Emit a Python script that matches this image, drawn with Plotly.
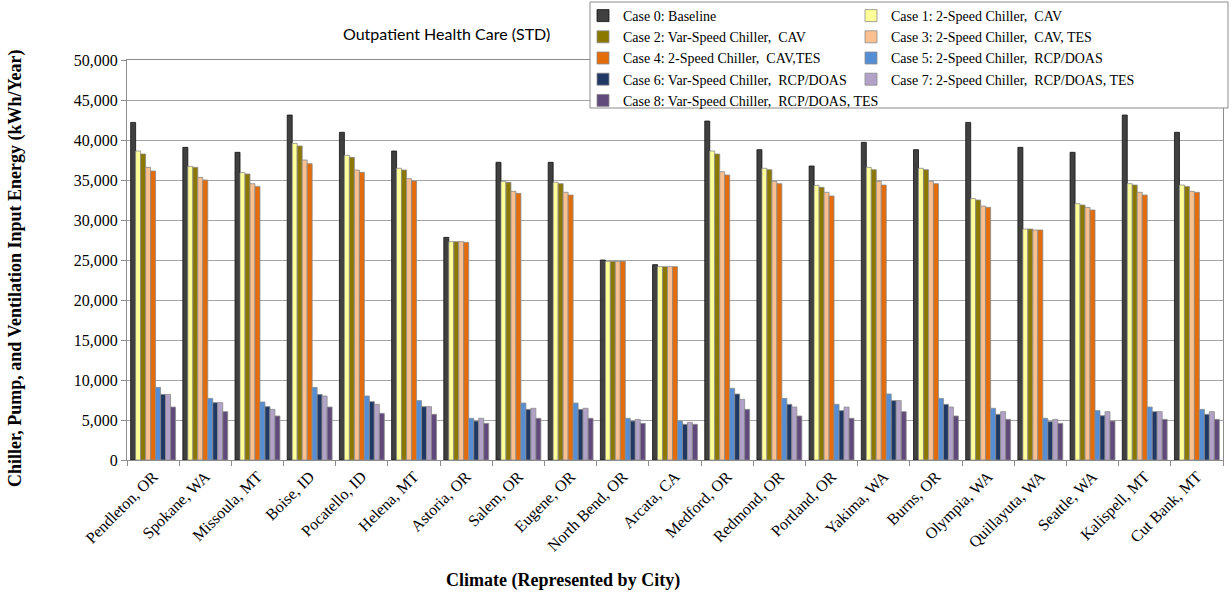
import plotly.graph_objects as go

cities = ["Pendleton, OR", "Spokane, WA", "Missoula, MT", "Boise, ID", "Pocatello, ID",
          "Helena, MT", "Astoria, OR", "Salem, OR", "Eugene, OR", "North Bend, OR",
          "Arcata, CA", "Medford, OR", "Redmond, OR", "Portland, OR", "Yakima, WA",
          "Burns, OR", "Olympia, WA", "Quillayuta, WA", "Seattle, WA", "Kalispell, MT",
          "Cut Bank, MT"]

case_names = ["Case 0: Baseline",
              "Case 1: 2-Speed Chiller,  CAV",
              "Case 2: Var-Speed Chiller,  CAV",
              "Case 3: 2-Speed Chiller,  CAV, TES",
              "Case 4: 2-Speed Chiller,  CAV,TES",
              "Case 5: 2-Speed Chiller,  RCP/DOAS",
              "Case 6: Var-Speed Chiller,  RCP/DOAS",
              "Case 7: 2-Speed Chiller,  RCP/DOAS, TES",
              "Case 8: Var-Speed Chiller,  RCP/DOAS, TES"]

case0 = [42200, 39080, 38460, 43120, 40960, 38620, 27830, 37210, 37210, 25000, 24420,
         42370, 38790, 36750, 39710, 38790, 42200, 39080, 38460, 43120, 40960]
case1 = [38620, 36700, 35920, 39580, 38080, 36460, 27290, 34830, 34710, 24830, 24170,
         38620, 36460, 34330, 36580, 36460, 32670, 28870, 32040, 34540, 34370]
case2 = [38250, 36580, 35750, 39250, 37830, 36250, 27290, 34710, 34540, 24830, 24170,
         38250, 36290, 34080, 36290, 36290, 32500, 28870, 31870, 34370, 34200]
case3 = [36580, 35330, 34540, 37500, 36250, 35170, 27290, 33580, 33460, 24830, 24170,
         36040, 34830, 33460, 34830, 34830, 31750, 28750, 31580, 33460, 33580]
case4 = [36120, 35000, 34200, 37040, 35960, 34870, 27210, 33330, 33120, 24830, 24170,
         35620, 34540, 33000, 34370, 34540, 31580, 28750, 31250, 33120, 33460]
case5 = [9080, 7700, 7250, 9080, 8000, 7420, 5210, 7120, 7120, 5210, 4870,
         8960, 7700, 6960, 8250, 7700, 6460, 5210, 6170, 6620, 6330]
case6 = [8200, 7170, 6670, 8200, 7290, 6670, 4870, 6330, 6330, 4870, 4460,
         8250, 6960, 6170, 7420, 6960, 5710, 4790, 5540, 6040, 5710]
case7 = [8200, 7170, 6330, 8000, 6960, 6670, 5210, 6460, 6460, 5080, 4710,
         7580, 6620, 6620, 7420, 6620, 6040, 5080, 6040, 6040, 6040]
case8 = [6620, 6040, 5500, 6620, 5830, 5710, 4580, 5210, 5210, 4580, 4460,
         6330, 5500, 5210, 6040, 5500, 5080, 4580, 4870, 5080, 5080]

series = [case0, case1, case2, case3, case4, case5, case6, case7, case8]
colors = ["#404040", "#FFFF99", "#8A7800", "#FAC090", "#E46C0A",
          "#558ED5", "#1F3864", "#B3A2C7", "#604A7B"]
line_colors = ["#111111"] + ["#8c8c8c"] * 8

serif = "Liberation Serif, Times New Roman, serif"

# pixel helpers for layout placement (plot area: x 127..1223, y 60..460)
def px_x(px):
    return (px - 127) / 1096

def px_y(py):
    return (460 - py) / 400

fig = go.Figure()
for i, (name, vals, c, lc) in enumerate(zip(case_names, series, colors, line_colors)):
    fig.add_trace(go.Bar(x=cities, y=vals, name=name,
                         legend="legend" if i % 2 == 0 else "legend2",
                         marker=dict(color=c, line=dict(color=lc, width=0.8))))

legend_common = dict(orientation="v", yanchor="top", xanchor="left",
                     font=dict(family=serif, size=14, color="black"),
                     bgcolor="rgba(0,0,0,0)", borderwidth=0,
                     traceorder="normal", itemwidth=30, tracegroupgap=0)

fig.update_layout(
    width=1231, height=602,
    margin=dict(l=127, r=8, t=60, b=142, autoexpand=False),
    paper_bgcolor="white", plot_bgcolor="white",
    barmode="group", bargap=0.14, bargroupgap=0,
    font=dict(family=serif, color="black"),
    legend=dict(x=px_x(583), y=px_y(0), **legend_common),
    legend2=dict(x=px_x(851), y=px_y(0), **legend_common),
    showlegend=True,
)

# legend frame
fig.add_shape(type="rect", xref="paper", yref="paper",
              x0=px_x(590), x1=px_x(1228), y0=px_y(108), y1=px_y(2),
              line=dict(color="#8c8c8c", width=1), fillcolor="white", layer="above")

fig.update_yaxes(range=[0, 50000], dtick=5000, tickformat=",d",
                 showgrid=True, gridcolor="#a6a6a6", gridwidth=1,
                 showline=True, linecolor="#8c8c8c", linewidth=1, mirror=True,
                 ticks="outside", ticklen=5, tickcolor="#8c8c8c",
                 tickfont=dict(family=serif, size=16, color="black"),
                 zeroline=False)
fig.update_xaxes(tickangle=-45, tickson="boundaries", ticks="outside", ticklen=5,
                 tickcolor="#8c8c8c", showline=True, linecolor="#8c8c8c",
                 linewidth=1, mirror=True,
                 tickfont=dict(family=serif, size=16, color="black"))

fig.add_annotation(text="Outpatient Health Care (STD)", xref="paper", yref="paper",
                   x=px_x(446), y=px_y(33), xanchor="center", yanchor="middle",
                   showarrow=False,
                   font=dict(family="Lato, Open Sans, sans-serif", size=16, color="black"))
fig.add_annotation(text="<b>Chiller, Pump, and Ventilation Input Energy (kWh/Year)</b>",
                   xref="paper", yref="paper", x=px_x(15), y=px_y(269),
                   xanchor="center", yanchor="middle",
                   textangle=-90, showarrow=False,
                   font=dict(family=serif, size=18, color="black"))
fig.add_annotation(text="<b>Climate (Represented by City)</b>",
                   xref="paper", yref="paper", x=px_x(563), y=px_y(580),
                   xanchor="center", yanchor="middle",
                   showarrow=False, font=dict(family=serif, size=18, color="black"))

fig.write_html("out.html",
               config={"displayModeBar": False},
               post_script="document.body.style.margin='0';document.body.style.overflow='hidden';")
